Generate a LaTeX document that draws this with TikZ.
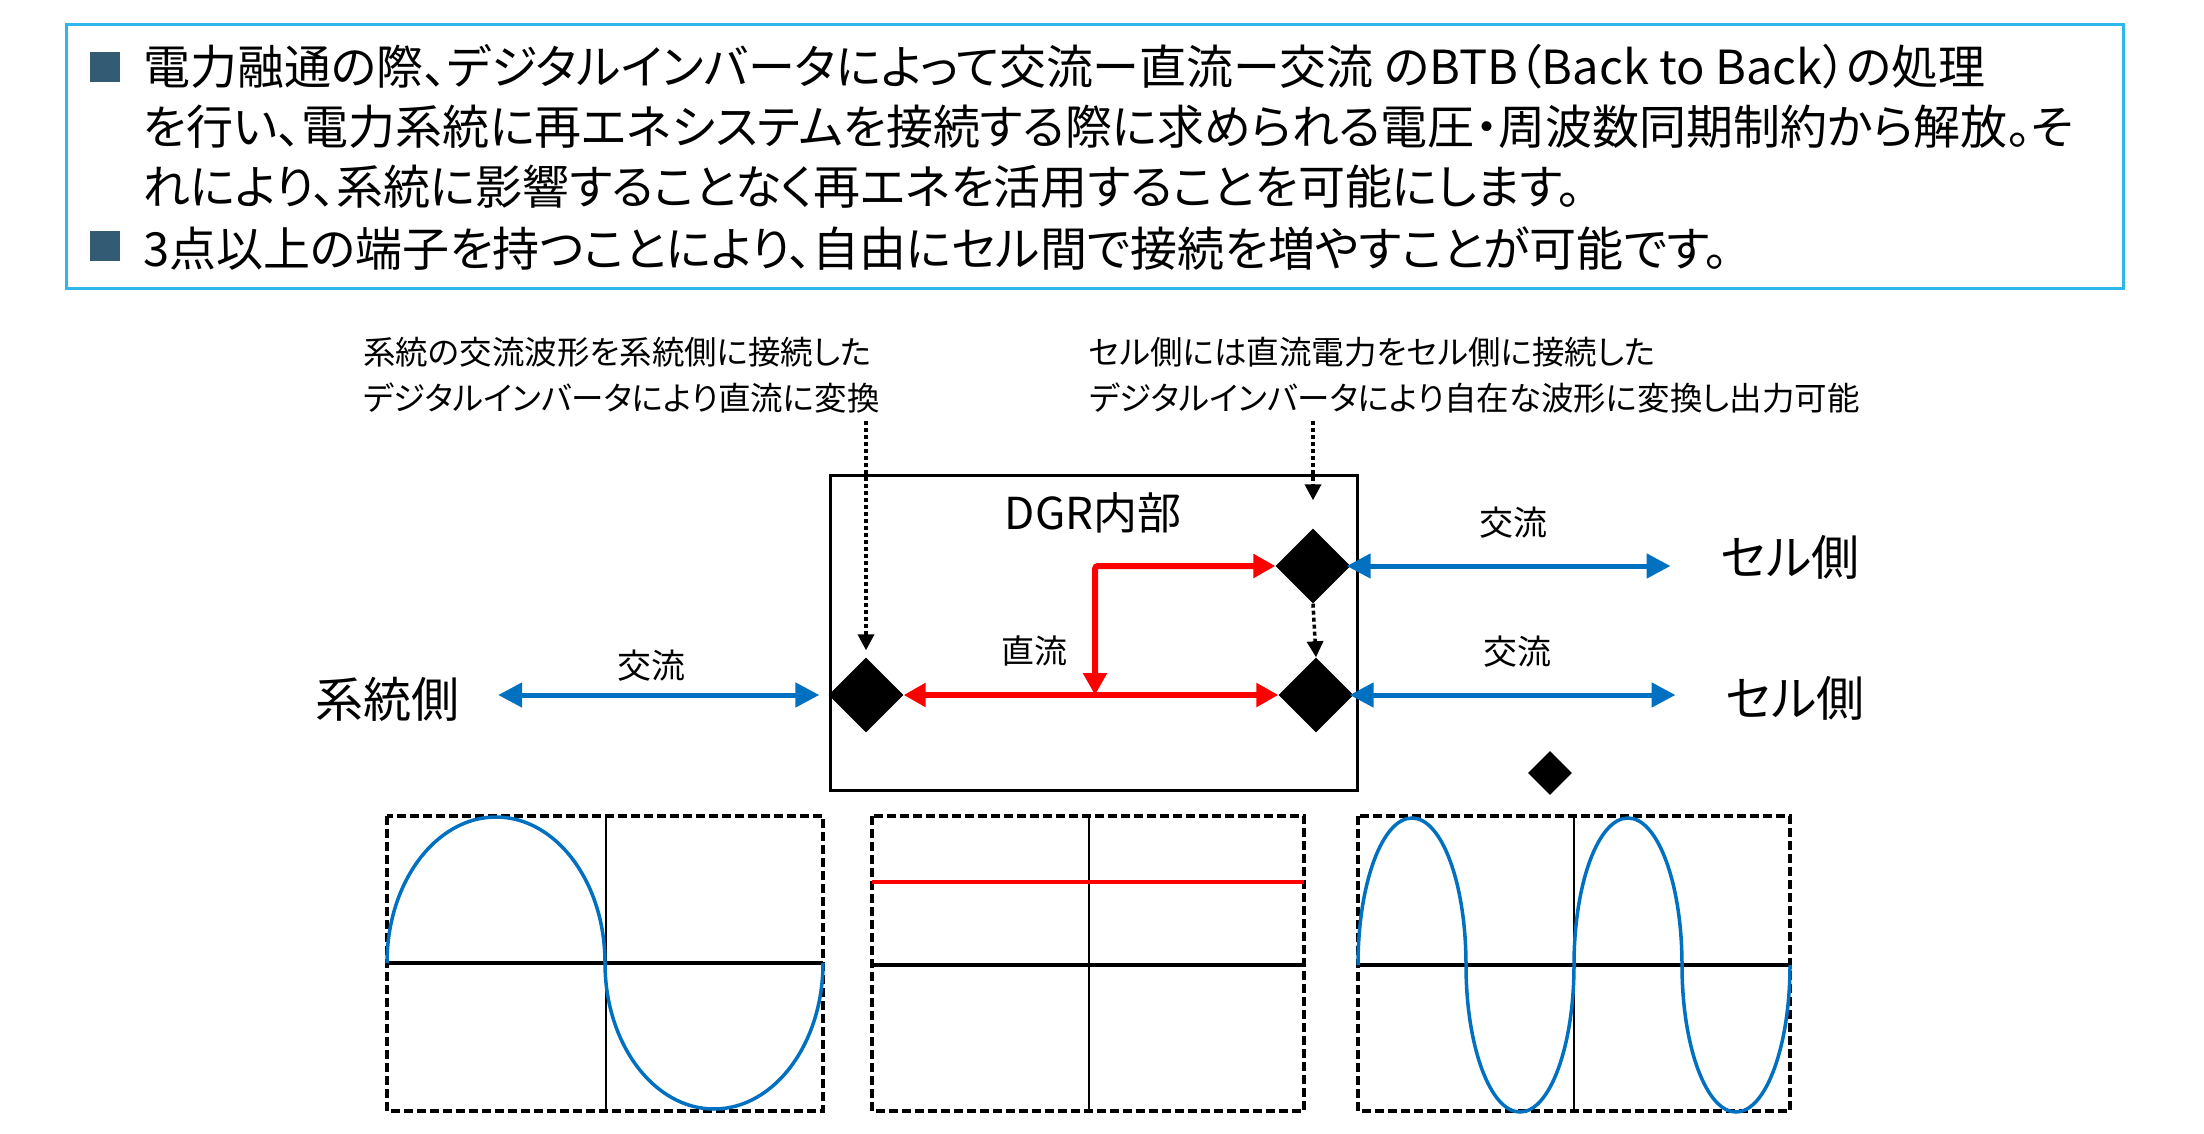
\documentclass[tikz,border=0pt]{standalone}
\usepackage{fontspec}
\setmainfont{Noto Sans CJK JP}[RawFeature={+palt}]
\usepackage{tikz}
\usetikzlibrary{arrows.meta,positioning,shapes.geometric}
\usepackage{xcolor}
\definecolor{acblue}{HTML}{0070C0}
\definecolor{dcred}{HTML}{FF0000}
\definecolor{framecyan}{HTML}{2DB7EB}
\definecolor{bulletslate}{HTML}{335B74}
\tikzset{
  txt/.style={inner sep=0pt},
  bulletsq/.style={fill=bulletslate, minimum size=30pt, inner sep=0pt},
  gem/.style={diamond, fill=black, inner sep=0pt, minimum width=75pt, minimum height=75pt},
  acarrow/.style={acblue, line width=5pt,
    {Triangle[length=24pt,width=24pt]}-{Triangle[length=24pt,width=24pt]}},
  dcarrow/.style={dcred, line width=6pt,
    {Triangle[length=22pt,width=23pt]}-{Triangle[length=22pt,width=23pt]}},
  hintarrow/.style={black, line width=3.5pt, dash pattern=on 4pt off 3pt,
    -{Triangle[length=16pt,width=16pt]}},
  scopebox/.style={draw, line width=3.5pt, dash pattern=on 9pt off 4pt},
}

\begin{document}
\begin{tikzpicture}[x=1pt,y=-1pt]
  \useasboundingbox (0,0) rectangle (2204,1134);
  % summary box
  \draw[framecyan,line width=3pt] (66,25) rectangle (2123,288);
  \node[bulletsq] (b1) at (105,67) {};
  \node[bulletsq] (b2) at (105,246) {};
  \node[txt,anchor=west,align=left,font=\fontsize{47}{60}\selectfont] (para1) at (143,126)
    {電力融通の際、デジタルインバータによって交流ー直流ー交流 のBTB（Back to Back）の処理\\
     を行い、電力系統に再エネシステムを接続する際に求められる電圧・周波数同期制約から解放。そ\\
     れにより、系統に影響することなく再エネを活用することを可能にします。};
  \node[txt,anchor=west,font=\fontsize{47}{60}\selectfont] (para2) at (143,249)
    {3点以上の端子を持つことにより、自由にセル間で接続を増やすことが可能です。};

  % notes
  \node[txt,anchor=west,align=left,font=\fontsize{32.5}{46}\selectfont] (note1) at (363,375)
    {系統の交流波形を系統側に接続した\\デジタルインバータにより直流に変換};
  \node[txt,anchor=west,align=left,font=\fontsize{32.5}{46}\selectfont] (note2) at (1089,375)
    {セル側には直流電力をセル側に接続した\\デジタルインバータにより自在な波形に変換し出力可能};

  % DGR
  \node[draw,line width=3pt,minimum width=527pt,minimum height=315pt] (dgr) at (1093.5,632.5) {};
  \node[txt,font=\fontsize{44}{50}\selectfont] (dgrtitle) at (1093,513) {DGR内部};
  \node[gem] (dl) at (866,695) {};
  \node[gem] (dtr) at (1313,566) {};
  \node[gem] (dbr) at (1316,695) {};
  \coordinate (jn) at (1095,695);
  \draw[dcarrow] (dl.east) -- (dbr.west) node[pos=0.35,above=22pt,black,font=\fontsize{33}{40}\selectfont] {直流};
  \draw[dcarrow,rounded corners=3pt] (dtr.west) -| (jn);
  \draw[hintarrow,shorten <=8pt,shorten >=7pt] (dl.north |- note1.south) -- (dl.north);
  \draw[hintarrow,shorten <=8pt,shorten >=28pt] (dtr.north |- note2.south) -- (dtr.north);
  \draw[hintarrow] (dtr.south) -- (dbr.north);

  % sides
  \node[txt,font=\fontsize{48}{50}\selectfont] (sys) at (387,699) {系統側};
  \node[txt,font=\fontsize{48}{50}\selectfont] (cell1) at (1790,557) {セル側};
  \node[txt,font=\fontsize{48}{50}\selectfont] (cell2) at (1795,698) {セル側};
  \draw[acarrow,shorten <=39pt,shorten >=9pt] (sys.east |- dl.west) -- (dl.west)
    node[pos=0.52,above=8pt,black,font=\fontsize{34}{40}\selectfont] {交流};
  \draw[acarrow,shorten <=-4pt,shorten >=50pt] (dtr.east) -- (dtr.east -| cell1.west)
    node[pos=0.44,above=22pt,black,font=\fontsize{34}{40}\selectfont] {交流};
  \draw[acarrow,shorten <=-4pt,shorten >=50pt] (dbr.east) -- (dbr.east -| cell2.west)
    node[pos=0.44,above=22pt,black,font=\fontsize{34}{40}\selectfont] {交流};
  \node[gem,minimum width=44pt,minimum height=44pt] (dsm) at (1550,773) {};

  % waveforms
  \draw[scopebox] (387,816) rectangle (823,1111);
  \draw[line width=4pt] (387,963) -- (823,963);
  \draw[line width=2.5pt] (606,816) -- (606,1111);
  \draw[acblue,line width=3.5pt] (387,963) arc[start angle=180,end angle=0,x radius=109pt,y radius=146pt]
    arc[start angle=180,end angle=360,x radius=109pt,y radius=146pt];

  \draw[scopebox] (872,816) rectangle (1304,1111);
  \draw[line width=4pt] (872,965) -- (1304,965);
  \draw[line width=2.5pt] (1089,816) -- (1089,1111);
  \draw[dcred,line width=3.5pt] (872,882) -- (1304,882);

  \draw[scopebox] (1358,816) rectangle (1790,1111);
  \draw[line width=4pt] (1358,965) -- (1790,965);
  \draw[line width=2.5pt] (1574,816) -- (1574,1111);
  \draw[acblue,line width=3.5pt] (1358,965)
    arc[start angle=180,end angle=0,x radius=54pt,y radius=147pt]
    arc[start angle=180,end angle=360,x radius=54pt,y radius=147pt]
    arc[start angle=180,end angle=0,x radius=54pt,y radius=147pt]
    arc[start angle=180,end angle=360,x radius=54pt,y radius=147pt];
\end{tikzpicture}
\end{document}
